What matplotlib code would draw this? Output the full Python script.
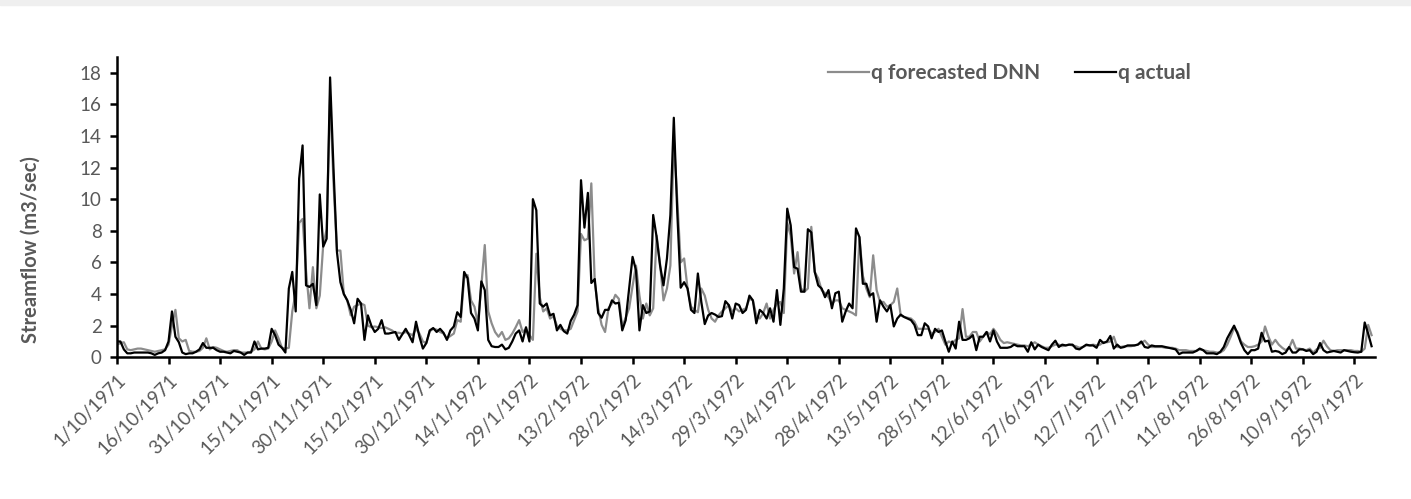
import numpy as np
import pandas as pd
import matplotlib
matplotlib.use("Agg")
import matplotlib.pyplot as plt

plt.rcParams['font.family'] = ['Lato', 'DejaVu Sans']

TEXT = '#595959'

# daily streamflow, water year 1/10/1971 - 30/9/1972 (366 days)
dates = pd.date_range('1971-10-01', periods=366, freq='D')

q_actual = [
    1.0, 1.0, 0.5, 0.25, 0.25, 0.3, 0.3, 0.3, 0.3, 0.3,
    0.25, 0.15, 0.25, 0.3, 0.45, 1.0, 2.9, 1.3, 0.95, 0.3,
    0.2, 0.25, 0.25, 0.35, 0.5, 0.9, 0.6, 0.6, 0.6, 0.45,
    0.35, 0.35, 0.3, 0.25, 0.4, 0.35, 0.3, 0.15, 0.3, 0.3,
    1.0, 0.5, 0.55, 0.55, 0.6, 1.8, 1.4, 0.8, 0.6, 0.3,
    4.35, 5.4, 2.9, 11.3, 13.4, 4.55, 4.45, 4.65, 3.3, 10.3,
    7.0, 7.5, 17.7, 11.9, 6.65, 4.75, 4.0, 3.6, 3.0, 2.15,
    3.7, 3.4, 1.1, 2.65, 2.0, 1.6, 1.8, 2.35, 1.5, 1.5,
    1.55, 1.6, 1.1, 1.45, 1.8, 1.4, 0.95, 2.25, 1.3, 0.55,
    0.9, 1.7, 1.85, 1.6, 1.8, 1.55, 1.1, 1.7, 1.95, 2.85,
    2.55, 5.4, 5.0, 2.8, 2.45, 1.7, 4.8, 4.25, 1.1, 0.7,
    0.65, 0.65, 0.8, 0.5, 0.6, 1.0, 1.5, 1.7, 1.0, 1.9,
    1.0, 10.0, 9.3, 3.4, 3.2, 3.4, 2.65, 2.75, 1.7, 2.05,
    1.65, 1.5, 2.3, 2.7, 3.3, 11.2, 8.2, 10.4, 4.7, 4.95,
    2.8, 2.5, 3.0, 3.0, 3.6, 3.4, 3.45, 1.7, 2.35, 4.35,
    6.35, 5.5, 1.7, 3.3, 2.8, 2.9, 9.0, 7.6, 5.8, 4.55,
    6.25, 9.0, 15.15, 9.2, 4.4, 4.75, 4.35, 3.0, 2.8, 5.3,
    3.5, 2.1, 2.65, 2.8, 2.7, 2.55, 2.6, 3.55, 3.3, 2.45,
    3.4, 3.3, 2.8, 3.0, 3.9, 3.6, 2.15, 3.0, 2.8, 2.45,
    3.1, 2.25, 4.25, 2.05, 4.35, 9.4, 8.35, 5.7, 5.6, 4.15,
    4.15, 8.1, 7.9, 5.4, 4.55, 4.35, 3.8, 4.25, 3.1, 4.05,
    4.15, 2.25, 2.9, 3.4, 3.1, 8.15, 7.6, 4.65, 4.65, 3.9,
    4.05, 2.25, 3.6, 3.2, 2.9, 3.3, 1.95, 2.45, 2.7, 2.55,
    2.45, 2.35, 2.05, 1.4, 1.4, 2.15, 1.95, 1.2, 1.8, 1.6,
    1.7, 1.0, 0.35, 1.0, 0.55, 2.25, 1.1, 1.1, 1.2, 1.4,
    0.45, 1.3, 1.3, 1.6, 1.0, 1.7, 1.0, 0.6, 0.6, 0.6,
    0.65, 0.8, 0.7, 0.7, 0.7, 0.35, 0.95, 0.5, 0.8, 0.65,
    0.55, 0.45, 0.8, 1.05, 0.65, 0.8, 0.75, 0.8, 0.8, 0.55,
    0.5, 0.65, 0.8, 0.75, 0.75, 0.6, 1.1, 0.9, 1.0, 1.35,
    0.55, 0.8, 0.6, 0.65, 0.75, 0.75, 0.75, 0.8, 1.0, 0.65,
    0.6, 0.75, 0.7, 0.7, 0.7, 0.65, 0.6, 0.55, 0.5, 0.2,
    0.3, 0.3, 0.3, 0.3, 0.4, 0.55, 0.45, 0.25, 0.25, 0.25,
    0.2, 0.35, 0.65, 1.2, 1.6, 2.0, 1.5, 0.9, 0.45, 0.2,
    0.45, 0.45, 0.55, 1.55, 1.0, 1.05, 0.35, 0.4, 0.35, 0.2,
    0.3, 0.65, 0.3, 0.3, 0.5, 0.5, 0.4, 0.45, 0.2, 0.35,
    0.9, 0.45, 0.3, 0.35, 0.4, 0.35, 0.3, 0.45, 0.4, 0.35,
    0.32, 0.3, 0.35, 2.2, 1.5, 0.7,
]

q_dnn = [
    0.8, 0.9, 0.95, 0.5, 0.45, 0.5, 0.55, 0.55, 0.5, 0.45,
    0.4, 0.35, 0.4, 0.45, 0.5, 0.8, 2.0, 3.0, 1.2, 1.0,
    1.1, 0.4, 0.35, 0.35, 0.4, 0.6, 1.2, 0.5, 0.65, 0.6,
    0.5, 0.4, 0.35, 0.4, 0.45, 0.45, 0.3, 0.3, 0.3, 0.35,
    0.5, 1.0, 0.55, 0.5, 0.55, 1.0, 1.7, 1.2, 0.6, 0.55,
    0.6, 2.9, 4.1, 8.5, 8.75, 5.5, 3.1, 5.7, 3.1, 3.9,
    7.1, 8.1, 16.5, 11.0, 6.75, 6.75, 4.0, 3.6, 2.65, 3.2,
    3.3, 3.4, 3.3, 2.0, 1.9, 1.95, 1.9, 1.85, 1.9, 1.8,
    1.7, 1.55, 1.55, 1.5, 1.6, 1.5, 1.4, 1.8, 1.5, 1.0,
    0.9, 1.65, 1.8, 1.75, 1.6, 1.5, 1.2, 1.35, 1.5, 2.35,
    2.25, 5.0, 5.2, 3.6, 3.2, 2.15, 4.5, 7.1, 2.9, 2.15,
    1.6, 1.3, 1.6, 1.1, 1.2, 1.5, 1.9, 2.35, 1.6, 1.8,
    1.4, 1.1, 6.55, 3.8, 2.9, 3.1, 2.45, 2.6, 2.0, 1.8,
    1.7, 1.7, 1.8, 2.35, 2.9, 7.8, 7.4, 7.5, 11.0, 4.75,
    3.1, 2.05, 1.6, 3.1, 3.4, 3.95, 3.7, 1.95, 2.5, 3.1,
    4.5, 5.8, 3.9, 2.45, 3.4, 2.65, 3.1, 7.7, 5.9, 3.6,
    4.35, 5.8, 13.8, 10.0, 6.0, 6.25, 4.35, 3.2, 3.0, 2.85,
    4.35, 3.9, 3.0, 2.45, 2.25, 2.65, 2.9, 3.1, 3.3, 2.9,
    3.1, 2.9, 3.0, 3.1, 3.7, 3.6, 2.65, 2.45, 2.8, 3.4,
    2.45, 3.0, 3.4, 3.5, 2.8, 8.5, 7.7, 5.3, 6.65, 4.35,
    4.15, 4.35, 8.25, 5.4, 5.0, 4.25, 4.05, 3.8, 3.4, 3.6,
    3.6, 3.1, 3.0, 2.9, 2.8, 2.65, 7.6, 5.15, 4.35, 3.8,
    6.45, 4.25, 3.5, 3.5, 3.2, 3.3, 3.5, 4.35, 2.65, 2.55,
    2.5, 2.45, 2.25, 1.8, 1.8, 1.8, 1.8, 1.5, 1.6, 1.8,
    1.3, 0.8, 1.0, 0.9, 1.1, 1.2, 3.05, 1.3, 1.3, 1.6,
    1.6, 1.0, 1.3, 1.6, 1.45, 1.8, 1.5, 1.1, 0.9, 0.95,
    0.9, 0.85, 0.8, 0.75, 0.75, 0.7, 0.8, 0.95, 0.8, 0.7,
    0.6, 0.6, 0.7, 0.8, 0.8, 0.7, 0.75, 0.8, 0.75, 0.7,
    0.6, 0.65, 0.75, 0.75, 0.8, 0.75, 0.8, 0.95, 0.95, 1.0,
    1.3, 0.65, 0.65, 0.7, 0.7, 0.7, 0.75, 0.8, 0.9, 1.05,
    0.8, 0.65, 0.65, 0.65, 0.65, 0.6, 0.6, 0.6, 0.55, 0.45,
    0.45, 0.45, 0.4, 0.4, 0.4, 0.5, 0.45, 0.4, 0.35, 0.35,
    0.3, 0.3, 0.45, 0.8, 1.3, 1.85, 1.6, 1.0, 0.8, 0.65,
    0.65, 0.7, 0.8, 1.0, 1.95, 1.3, 0.8, 1.1, 0.8, 0.6,
    0.45, 0.6, 1.1, 0.55, 0.55, 0.5, 0.45, 0.55, 0.3, 0.5,
    0.6, 1.05, 0.7, 0.45, 0.4, 0.45, 0.45, 0.45, 0.45, 0.45,
    0.4, 0.4, 0.35, 0.55, 2.05, 1.4,
]

# tick every 15 days
tick_dates = pd.date_range('1971-10-01', '1972-09-30', freq='15D')
tick_labels = [f"{d.day}/{d.month}/{d.year}" for d in tick_dates]
y_ticks = np.arange(0, 20, 2)

fig = plt.figure(figsize=(14.11, 4.99), dpi=100)
# thin grey band along the top edge
fig.patches.append(plt.Rectangle((0, 0.99), 1, 0.01, transform=fig.transFigure,
                                 color='#efefef', zorder=0))
ax = fig.add_axes([0.0829, 0.284, 0.8916, 0.602])

ax.plot(dates, q_dnn, color='#8c8c8c', lw=1.6, label='q forecasted DNN')
ax.plot(dates, q_actual, color='black', lw=1.6, label='q actual')

ax.set_xlim(dates[0], dates[0] + pd.Timedelta(days=366))
ax.set_ylim(0, 19)
ax.set_yticks(y_ticks)
ax.set_xticks(tick_dates)
ax.set_xticklabels(tick_labels, rotation=45, ha='right', rotation_mode='anchor')

for s in ['top', 'right']:
    ax.spines[s].set_visible(False)
for s in ['left', 'bottom']:
    ax.spines[s].set_linewidth(1.8)
ax.tick_params(axis='both', direction='out', length=5, width=1.8,
               colors='black', labelcolor=TEXT, labelsize=13.5)
ax.tick_params(axis='x', pad=5)
ax.tick_params(axis='y', pad=6)

ax.set_ylabel('Streamflow (m3/sec)', fontsize=14.5, fontweight='bold',
              color=TEXT)
ax.yaxis.set_label_coords(-0.061, 0.357)

leg = ax.legend(loc='upper left', bbox_to_anchor=(0.557, 1.013), ncol=2,
                frameon=False, fontsize=15, borderpad=0, handlelength=1.95,
                handletextpad=0.1, columnspacing=1.7)
for t in leg.get_texts():
    t.set_color(TEXT)
    t.set_fontweight('bold')

fig.savefig('out.png', dpi=100)
